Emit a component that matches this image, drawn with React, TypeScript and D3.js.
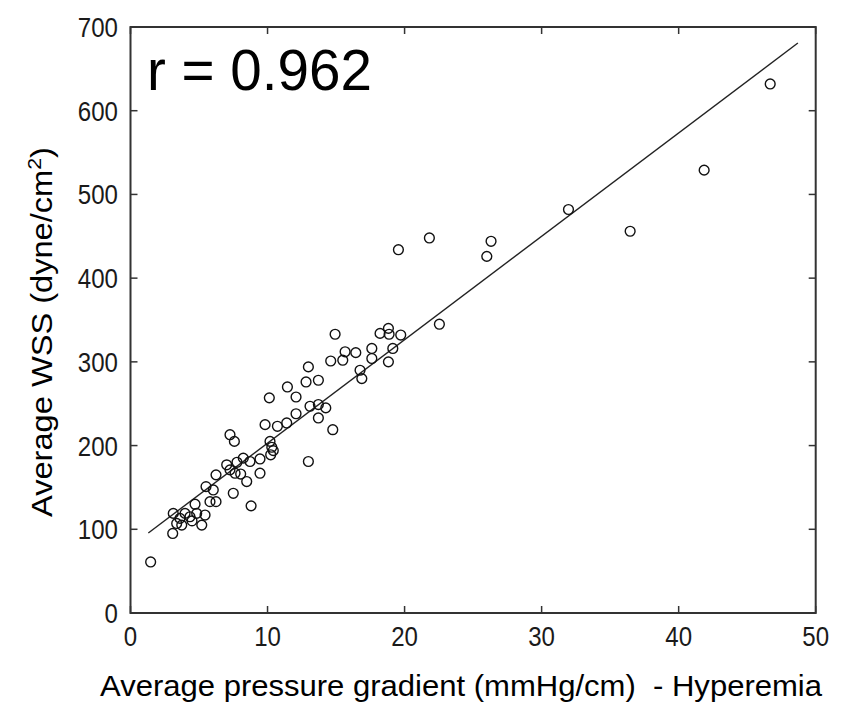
import React from 'react';
import * as d3 from 'd3';

const pressureGradient = [
  1.47, 3.08, 3.12, 3.37, 3.74, 3.61, 3.98, 4.34, 4.49, 4.83, 4.71, 5.2, 5.44, 5.51, 6.04, 5.8, 6.24, 6.24, 7.5, 8.8,
  7.26, 7.58, 7.02, 7.26, 8.23, 8.72, 9.45, 8.04, 8.48, 9.45, 7.63, 7.77,
  9.82, 10.13, 10.18, 10.31, 10.42, 10.23, 10.72, 11.4,
  11.45, 12.08, 12.08, 12.81, 12.98, 13.71, 13.1, 13.71, 14.25, 13.71, 14.76, 12.98,
  14.61, 14.93, 15.49, 15.66, 16.44, 16.75, 16.88, 17.61, 17.61, 18.21, 18.82, 18.87, 19.14, 18.82, 19.72,
  22.54, 19.55, 21.81, 26.0, 26.31, 31.96, 36.46, 41.86, 46.68,
];
const averageWSS = [
  61, 95, 119, 107, 105, 113, 119, 115, 110, 119, 130, 105, 117, 151, 147, 133, 133, 165, 143, 128,
  213, 205, 177, 171, 185, 181, 184, 166, 157, 167, 167, 180,
  225, 257, 205, 198, 194, 189, 223, 227,
  270, 258, 238, 276, 294, 278, 247, 249, 245, 233, 219, 181,
  301, 333, 302, 312, 311, 290, 280, 316, 304, 334, 340, 333, 316, 300, 332,
  345, 434, 448, 426, 444, 482, 456, 529, 632,
];
const xTicks = [0, 10, 20, 30, 40, 50];
const yTicks = [0, 100, 200, 300, 400, 500, 600, 700];
const fitSlope = 12.35;
const fitIntercept = 79.5;
const fitRange = [1.3, 48.7];
const rLabel = 'r = 0.962';
const xTitle = 'Average pressure gradient (mmHg/cm)  - Hyperemia';

const FONT = '"Liberation Sans", Arial, Helvetica, sans-serif';

export default function App() {
  const left = 130.5, right = 815.7, top = 27, bottom = 613;
  const x = d3.scaleLinear().domain([0, 50]).range([left, right]);
  const y = d3.scaleLinear().domain([0, 700]).range([bottom, top]);
  const line = d3.line<number>().x((d) => x(d)).y((d) => y(fitIntercept + fitSlope * d));
  const tickLen = 7;
  const axisColor = '#333';
  return (
    <svg width={841} height={702} style={{ position: 'absolute', left: 0, top: 0, background: '#fff' }}>
      <rect x={0} y={0} width={841} height={702} fill="#fff" />
      <path d={line(fitRange) || ''} fill="none" stroke="#222" strokeWidth={1.4} />
      {pressureGradient.map((v, i) => (
        <circle key={i} cx={x(v)} cy={y(averageWSS[i])} r={4.9} fill="none" stroke="#111" strokeWidth={1.4} />
      ))}
      <rect x={left} y={top} width={right - left} height={bottom - top} fill="none" stroke={axisColor} strokeWidth={2} />
      {xTicks.map((t) => (
        <g key={'xt' + t}>
          <line x1={x(t)} x2={x(t)} y1={bottom} y2={bottom - tickLen} stroke={axisColor} strokeWidth={1.5} />
          <line x1={x(t)} x2={x(t)} y1={top} y2={top + tickLen} stroke={axisColor} strokeWidth={1.5} />
          <text
            transform={`translate(${x(t)},${646}) scale(0.86,1)`}
            textAnchor="middle"
            fontFamily={FONT}
            fontSize={28}
            fill="#1a1a1a"
          >
            {t}
          </text>
        </g>
      ))}
      {yTicks.map((t) => (
        <g key={'yt' + t}>
          <line x1={left} x2={left + tickLen} y1={y(t)} y2={y(t)} stroke={axisColor} strokeWidth={1.5} />
          <line x1={right} x2={right - tickLen} y1={y(t)} y2={y(t)} stroke={axisColor} strokeWidth={1.5} />
          <text
            transform={`translate(${118},${y(t) + 10}) scale(0.86,1)`}
            textAnchor="end"
            fontFamily={FONT}
            fontSize={28}
            fill="#1a1a1a"
          >
            {t}
          </text>
        </g>
      ))}
      <text x={147} y={90} fontFamily={FONT} fontSize={58} fill="#000" textLength={225} lengthAdjust="spacingAndGlyphs">
        {rLabel}
      </text>
      <text
        x={100}
        y={696}
        fontFamily={FONT}
        fontSize={29}
        fill="#000"
        textLength={722}
        lengthAdjust="spacingAndGlyphs"
        style={{ whiteSpace: 'pre' }}
      >
        {xTitle}
      </text>
      <text
        transform={`translate(52,517) rotate(-90)`}
        fontFamily={FONT}
        fontSize={29}
        fill="#000"
        textLength={370}
        lengthAdjust="spacingAndGlyphs"
      >
        Average WSS (dyne/cm
        <tspan dy={-11} fontSize={19}>2</tspan>
        <tspan dy={11}>)</tspan>
      </text>
    </svg>
  );
}
